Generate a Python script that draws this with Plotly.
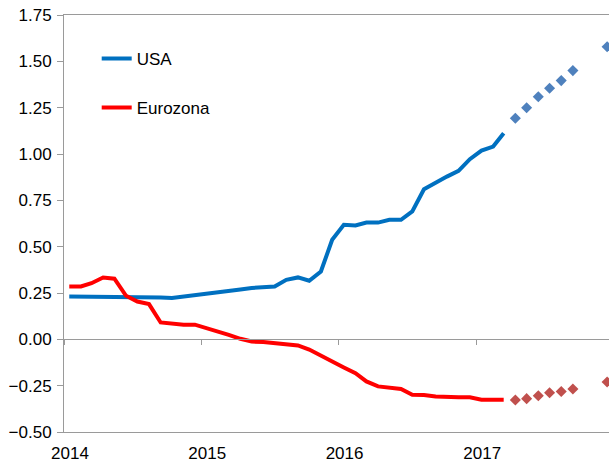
import pandas as pd
import plotly.graph_objects as go

# ---- data ----
dates = list(pd.date_range(start="2014-01-01", periods=39, freq="MS") + pd.Timedelta(days=14))
usa = [0.231, 0.231, 0.231, 0.226, 0.226, 0.226, 0.226, 0.226, 0.226, 0.223,
       0.230, 0.238, 0.246, 0.254, 0.262, 0.269, 0.277, 0.282, 0.285, 0.321,
       0.334, 0.316, 0.366, 0.537, 0.618, 0.614, 0.630, 0.630, 0.645, 0.645,
       0.690, 0.810, 0.846, 0.878, 0.909, 0.972, 1.018, 1.040, 1.112]
euro = [0.285, 0.285, 0.303, 0.334, 0.327, 0.235, 0.204, 0.190, 0.091, 0.084,
        0.079, 0.079, 0.060, 0.045, 0.024, 0.003, -0.012, -0.015, -0.020, -0.027,
        -0.033, -0.055, -0.088, -0.125, -0.152, -0.183, -0.227, -0.254, -0.263, -0.268,
        -0.299, -0.300, -0.308, -0.313, -0.313, -0.313, -0.326, -0.326, -0.326]
fc_dates = ["2017-04-15", "2017-05-15", "2017-06-15", "2017-07-15",
            "2017-08-15", "2017-09-15", "2017-12-15"]
usa_fc = [1.193, 1.250, 1.309, 1.355, 1.396, 1.450, 1.579]
euro_fc = [-0.327, -0.320, -0.304, -0.288, -0.281, -0.268, -0.230]
year_ticks = ["2014-01-01", "2015-01-01", "2016-01-01", "2017-01-01"]
year_labels = ["2014", "2015", "2016", "2017"]

x_range = ["2014-01-01", "2017-12-20"]
y_min, y_max = -0.5, 1.75
FONT = "Liberation Sans, Arial, sans-serif"
AX = "#9a9a9a"

fig = go.Figure()
fig.add_trace(go.Scatter(x=dates, y=usa, mode="lines", name="USA",
                         legendgroup="a", xaxis="x", yaxis="y",
                         line=dict(color="#0070C0", width=4)))
fig.add_trace(go.Scatter(x=dates, y=euro, mode="lines", name="Eurozona",
                         legendgroup="b", xaxis="x", yaxis="y",
                         line=dict(color="#FF0000", width=4)))
fig.add_trace(go.Scatter(x=fc_dates, y=usa_fc, mode="markers", showlegend=False,
                         xaxis="x2", yaxis="y",
                         marker=dict(symbol="diamond", size=8.5, color="#4F81BD")))
fig.add_trace(go.Scatter(x=fc_dates, y=euro_fc, mode="markers", showlegend=False,
                         xaxis="x2", yaxis="y",
                         marker=dict(symbol="diamond", size=8.5, color="#C0504D")))

zero_pos = (0 - y_min) / (y_max - y_min)

fig.update_layout(
    width=609, height=463,
    margin=dict(l=64, r=0, t=15, b=31),
    paper_bgcolor="white", plot_bgcolor="white",
    font=dict(family=FONT, size=17, color="#000000"),
    showlegend=True,
    legend=dict(x=0.06, y=0.938, xanchor="left", yanchor="top",
                bgcolor="rgba(0,0,0,0)", tracegroupgap=24,
                font=dict(family=FONT, size=17, color="#000000")),
    # bottom axis: labels + plot border (top mirrored)
    xaxis=dict(type="date", range=x_range, anchor="y", side="bottom",
               showline=True, linecolor=AX, linewidth=1, mirror=True,
               ticks="", tickvals=year_ticks, ticktext=year_labels,
               ticklabelshift=6, ticklabelstandoff=6, ticklabeloverflow="allow",
               showgrid=False, zeroline=False, automargin=False,
               tickfont=dict(family=FONT, size=17, color="#000000")),
    # axis crossing at zero with tick marks
    xaxis2=dict(type="date", range=x_range, overlaying="x", anchor="free",
                position=zero_pos, side="bottom",
                showline=True, linecolor=AX, linewidth=1,
                ticks="outside", ticklen=5, tickcolor=AX, tickwidth=1,
                tickvals=year_ticks, showticklabels=False,
                showgrid=False, zeroline=False, automargin=False),
    yaxis=dict(range=[y_min, y_max],
               tickvals=[-0.5, -0.25, 0, 0.25, 0.5, 0.75, 1.0, 1.25, 1.5, 1.75],
               tickformat=".2f", showline=True, linecolor=AX, linewidth=1,
               ticks="outside", ticklen=6, tickcolor=AX, tickwidth=1,
               ticklabelstandoff=2, automargin=False, ticklabeloverflow="allow",
               showgrid=False, zeroline=False,
               tickfont=dict(family=FONT, size=17, color="#000000")),
)

fig.write_html(
    "out.html",
    config={"displayModeBar": False},
    post_script="document.body.style.margin='0';document.body.style.overflow='hidden';",
)
